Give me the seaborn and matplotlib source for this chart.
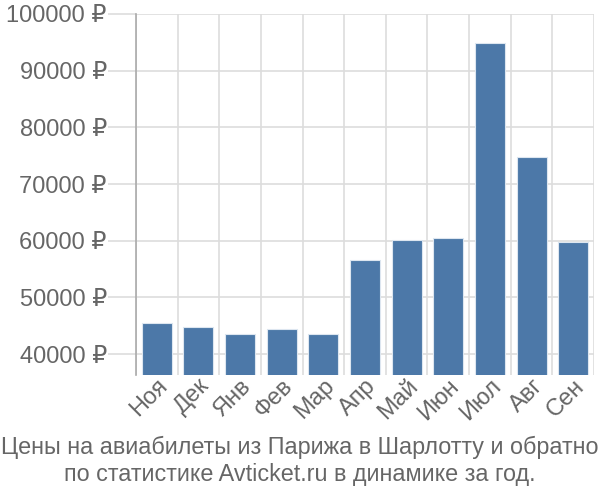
import matplotlib
matplotlib.use("Agg")
import matplotlib.pyplot as plt
import seaborn as sns
import numpy as np
import pandas as pd
from matplotlib.ticker import FixedLocator, FuncFormatter

months = ["Ноя", "Дек", "Янв", "Фев", "Мар", "Апр", "Май", "Июн", "Июл", "Авг", "Сен"]
prices = [45500, 44800, 43500, 44400, 43500, 56600, 60200, 60500, 94800, 74800, 59800]
yticks = [40000, 50000, 60000, 70000, 80000, 90000, 100000]
title = "Цены на авиабилеты из Парижа в Шарлотту и обратно\nпо статистике Avticket.ru в динамике за год."

sns.set_theme(style="white")
plt.rcParams['font.family'] = ['Liberation Sans', 'DejaVu Sans']

df = pd.DataFrame({"month": months, "price": prices})

fig = plt.figure(figsize=(6, 5), dpi=100)
ax = fig.add_axes([0.2267, 0.25, 0.7633, 0.722])

sns.barplot(data=df, x="month", y="price", color="#4c78a8", saturation=1,
            width=0.72, edgecolor="#dde6f0", linewidth=0.8, ax=ax, zorder=3)

ax.set_ylim(36300, 100000)
ax.set_xlim(-0.5, len(months) - 0.5)
ax.yaxis.set_major_locator(FixedLocator(yticks))
ax.yaxis.set_major_formatter(FuncFormatter(lambda v, p: f"{int(v)} ₽"))
ax.xaxis.set_minor_locator(FixedLocator(np.arange(-0.5, len(months), 1.0)))

ax.grid(axis="y", which="major", color="#dddddd", linewidth=1.2, zorder=0)
ax.grid(axis="x", which="minor", color="#dddddd", linewidth=1.2, zorder=0)
ax.tick_params(axis="y", which="major", length=20, color="#dddddd", width=1.2,
               labelsize=17, labelcolor="#666666", pad=1, left=True)
ax.tick_params(axis="x", which="major", length=0, labelsize=17,
               labelcolor="#666666", pad=0)
ax.tick_params(axis="x", which="minor", length=0)
for lab in ax.get_xticklabels():
    lab.set_rotation(45)
    lab.set_ha("right")
    lab.set_rotation_mode("anchor")

for s in ["top", "right", "bottom"]:
    ax.spines[s].set_visible(False)
ax.spines["left"].set_color("#aaaaaa")
ax.spines["left"].set_linewidth(1.2)
ax.set_xlabel("")
ax.set_ylabel("")

fig.text(0.5, 0.078, title, ha="center", va="center", fontsize=16.8,
         color="#666666", linespacing=1.2)

fig.savefig("out.png", dpi=100)
